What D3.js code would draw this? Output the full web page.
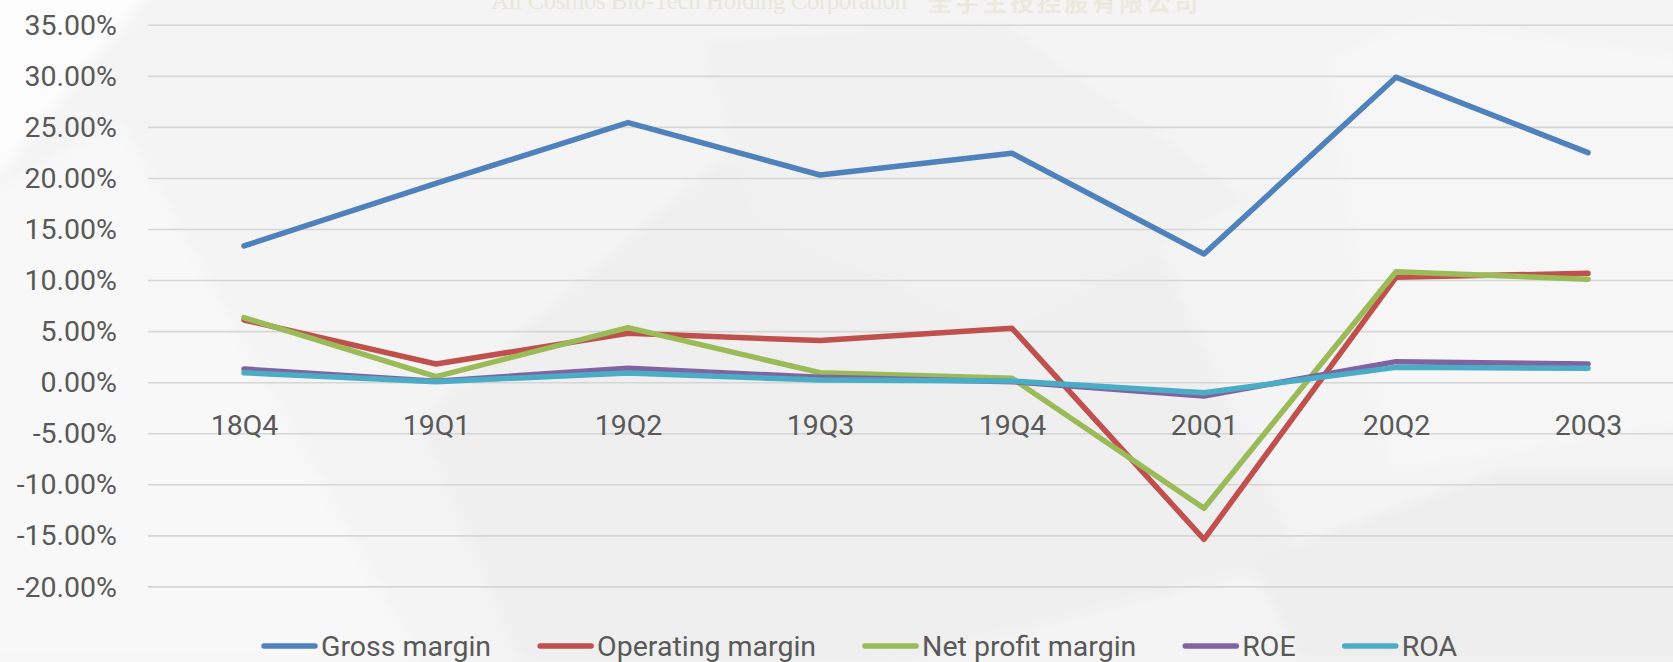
<!DOCTYPE html>
<html>
<head>
<meta charset="utf-8">
<style>
  html, body { margin: 0; padding: 0; background: #f4f4f4; overflow: hidden; }
  svg { display: block; }
</style>
</head>
<body>
<svg id="chart"></svg>
<script src="https://cdn.jsdelivr.net/npm/d3@7"></script>
<script>
    var width = 1673;
    var height = 662;

    var categories = ["18Q4", "19Q1", "19Q2", "19Q3", "19Q4", "20Q1", "20Q2", "20Q3"];
    var grossMargin = [13.39, 19.53, 25.47, 20.34, 22.47, 12.6, 29.91, 22.53];
    var operatingMargin = [6.14, 1.83, 4.84, 4.12, 5.33, -15.34, 10.32, 10.71];
    var netProfitMargin = [6.37, 0.59, 5.39, 0.98, 0.43, -12.3, 10.87, 10.13];
    var roe = [1.34, 0.15, 1.41, 0.53, 0.1, -1.3, 2.06, 1.83];
    var roa = [0.98, 0.1, 0.95, 0.26, 0.17, -0.98, 1.5, 1.41];
    var yTicks = [35, 30, 25, 20, 15, 10, 5, 0, -5, -10, -15, -20];

    var seriesNames = ["Gross margin", "Operating margin", "Net profit margin", "ROE", "ROA"];
    var seriesValues = [grossMargin, operatingMargin, netProfitMargin, roe, roa];
    var colors = ["#4f81bd", "#c0504d", "#9bbb59", "#8064a2", "#4bacc6"];

    var textColor = "#595959";
    var font = "Roboto, 'Noto Sans', sans-serif";

    var plotLeft = 148, plotRight = 1684;

    const svg = d3.select("svg#chart")
      .attr("width", width)
      .attr("height", height);

    // background, washed out shapes
    var defs = svg.append("defs");
    defs.append("filter").attr("id", "soft")
      .attr("x", "-20%").attr("y", "-20%").attr("width", "140%").attr("height", "140%")
      .append("feGaussianBlur").attr("stdDeviation", 6);

    var bg = svg.append("g");
    bg.append("rect").attr("width", width).attr("height", height).attr("fill", "#f4f4f4");
    var shapes = [
      {p: [[-20,-20],[160,-20],[-20,200]], c: "#fcfcfc"},
      {p: [[-20,200],[120,120],[420,662],[-20,662]], c: "#f8f8f8"},
      {p: [[420,420],[720,160],[1100,120],[1300,560],[900,662],[520,662]], c: "#efefef"},
      {p: [[700,40],[1000,20],[1250,200],[1000,330],[760,220]], c: "#f1f1f1"},
      {p: [[1330,60],[1420,20],[1700,60],[1700,420],[1390,470],[1360,300]], c: "#f6f6f6"},
      {p: [[1250,560],[1500,470],[1700,470],[1700,662],[1300,662]], c: "#eeeeee"}
    ];
    bg.selectAll("polygon")
      .data(shapes)
      .enter().append("polygon")
      .attr("points", d => d.p.map(q => q.join(",")).join(" "))
      .attr("fill", d => d.c)
      .attr("filter", "url(#soft)");

    // watermark (cut off at the top, as in the slide)
    svg.append("text")
      .attr("x", 491).attr("y", 9)
      .attr("fill", "#e9e7da")
      .attr("font-family", "'Liberation Serif', 'Times New Roman', serif")
      .attr("font-size", 25)
      .attr("textLength", 416)
      .attr("lengthAdjust", "spacing")
      .text("All Cosmos Bio-Tech Holding Corporation");
    svg.append("text")
      .attr("x", 928).attr("y", 11)
      .attr("fill", "#ebe9de")
      .attr("font-family", "'Noto Sans CJK TC', sans-serif")
      .attr("font-weight", "bold")
      .attr("font-size", 24)
      .attr("textLength", 270)
      .attr("lengthAdjust", "spacing")
      .text("全宇生技控股有限公司");

    var x = d3.scalePoint()
      .domain(categories)
      .range([plotLeft, plotRight])
      .padding(0.5);

    var y = d3.scaleLinear()
      .domain([-20, 35])
      .range([586.9, 25.3]);

    // gridlines
    svg.append("g")
      .selectAll("line")
      .data(yTicks)
      .enter().append("line")
      .attr("x1", plotLeft).attr("x2", plotRight)
      .attr("y1", d => y(d)).attr("y2", d => y(d))
      .attr("stroke", "#d6d6d6")
      .attr("stroke-width", 1.6);

    // y axis labels
    svg.append("g")
      .attr("transform", `translate(${plotLeft},0)`)
      .call(d3.axisLeft(y).tickValues(yTicks).tickFormat(d => d.toFixed(2) + "%").tickSize(0).tickPadding(31))
      .call(g => g.select(".domain").remove())
      .call(g => g.selectAll("text")
        .attr("fill", textColor)
        .attr("font-family", font)
        .attr("font-size", 28.5));

    // category labels
    svg.append("g")
      .attr("transform", `translate(0,${y(0)})`)
      .call(d3.axisBottom(x).tickSize(0).tickPadding(32))
      .call(g => g.select(".domain").remove())
      .call(g => g.selectAll("text")
        .attr("fill", textColor)
        .attr("font-family", font)
        .attr("font-size", 28.5));

    // lines
    var line = d3.line()
      .x((d, i) => x(categories[i]))
      .y(d => y(d));

    svg.append("g")
      .selectAll("path")
      .data(seriesValues)
      .enter().append("path")
      .attr("d", d => line(d))
      .attr("fill", "none")
      .attr("stroke", (d, i) => colors[i])
      .attr("stroke-width", 5.5)
      .attr("stroke-linejoin", "round")
      .attr("stroke-linecap", "round");

    // legend
    var legend = svg.append("g");
    var lx = 262, ly = 646;
    seriesNames.forEach((name, i) => {
      legend.append("line")
        .attr("x1", lx + 2).attr("x2", lx + 53)
        .attr("y1", ly).attr("y2", ly)
        .attr("stroke", colors[i])
        .attr("stroke-width", 5.5)
        .attr("stroke-linecap", "round");
      var t = legend.append("text")
        .attr("x", lx + 59).attr("y", ly + 10)
        .attr("fill", textColor)
        .attr("font-family", font)
        .attr("font-size", 28.5)
        .text(name);
      lx += 59 + t.node().getComputedTextLength() + 47;
    });
</script>
</body>
</html>
